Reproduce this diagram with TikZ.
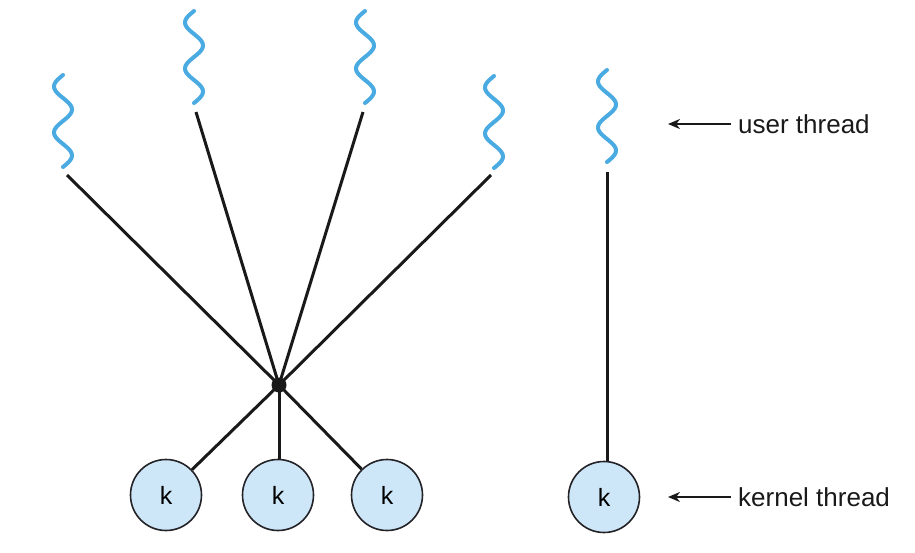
\documentclass[tikz,border=0pt]{standalone}
\usepackage{fontspec}
\setmainfont{Liberation Sans}
\usetikzlibrary{arrows.meta}
\definecolor{wavecol}{RGB}{74,170,226}
\definecolor{kfill}{RGB}{206,231,248}
\definecolor{kdraw}{RGB}{35,35,40}
\definecolor{linkcol}{RGB}{25,25,25}
\begin{document}
\begin{tikzpicture}[x=1pt,y=-1pt,
  wave/.style={draw=wavecol, line width=4pt, line cap=round},
  link/.style={draw=linkcol, line width=3pt},
  kthread/.style={circle, draw=kdraw, line width=1.6pt, fill=kfill, minimum size=71pt, inner sep=0pt, font=\fontsize{25}{25}\selectfont},
  hub/.style={circle, fill=linkcol, minimum size=15pt, inner sep=0pt},
  lbl/.style={anchor=base west, inner sep=0pt, text=linkcol, font=\fontsize{26}{26}\selectfont},
  pointer/.style={draw=linkcol, line width=2.4pt, -{Stealth[length=12pt,width=10pt]}}
]
\useasboundingbox (0,0) rectangle (915,552);
% user threads (wavy)
\foreach \cx/\yt/\yb in {63/75/167, 194/11/103, 365/11/103, 494/76/168, 607/70/162}{
  \draw[wave] plot[domain=0:92, samples=80, smooth] ({\cx-9*sin(\x*7.8261)}, {\yt+\x*(\yb-\yt)/92});
}
% line ends below user threads
\coordinate (u1) at (67,175);
\coordinate (u2) at (196,112);
\coordinate (u3) at (363,112);
\coordinate (u4) at (491,175);
\coordinate (u5) at (607,172);
% hub
\node[hub] (h) at (279,385) {};
% kernel threads
\node[kthread] (k1) at (166,495) {k};
\node[kthread] (k2) at (278,495) {k};
\node[kthread] (k3) at (387,495) {k};
\node[kthread] (k4) at (604,497) {k};
% connectors
\draw[link] (u1) -- (h.center);
\draw[link] (u2) -- (h.center);
\draw[link] (u3) -- (h.center);
\draw[link] (u4) -- (h.center);
\draw[link] (h.center) -- (k1);
\draw[link] (h.center) -- (h.center |- k2.north);
\draw[link] (h.center) -- (k3);
\draw[link] (u5) -- (u5 |- k4.north);
% labels
\node[lbl] (ut) at (738,133) {user thread};
\node[lbl] (kt) at (738,506) {kernel thread};
\coordinate (ua) at (668,124);
\coordinate (ka) at (668,497);
\coordinate (us) at (731,124);
\coordinate (ks) at (731,497);
\draw[pointer] (us) -- (ua);
\draw[pointer] (ks) -- (ka);
\end{tikzpicture}
\end{document}
